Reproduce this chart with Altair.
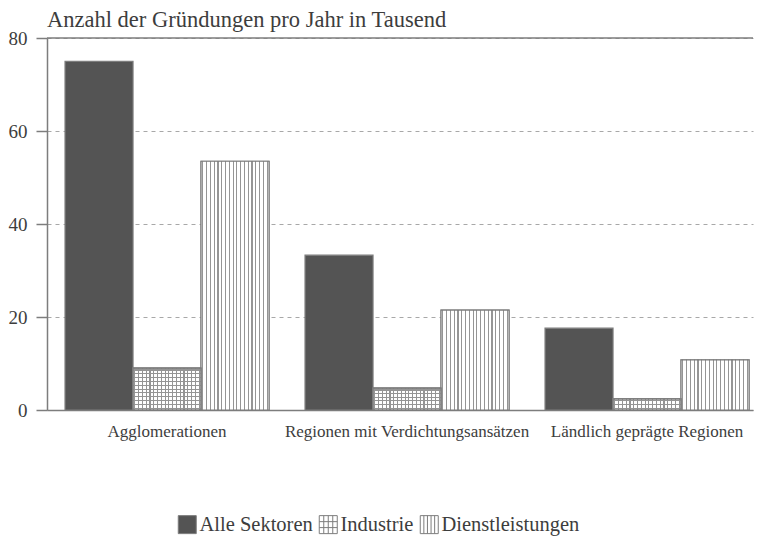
import altair as alt
import pandas as pd

# ---- data ----
regions = ["Agglomerationen", "Regionen mit Verdichtungsansätzen", "Ländlich geprägte Regionen"]
sectors = ["Alle Sektoren", "Industrie", "Dienstleistungen"]
alle_sektoren = [75.0, 33.3, 17.6]
industrie = [9.0, 4.7, 2.4]
dienstleistungen = [53.5, 21.5, 10.8]
y_ticks = [0, 20, 40, 60, 80]
y_max = 80
title_text = "Anzahl der Gründungen pro Jahr in Tausend"

series = {"Alle Sektoren": alle_sektoren, "Industrie": industrie, "Dienstleistungen": dienstleistungen}
df = pd.DataFrame(
    [{"Region": r, "Sektor": s, "Wert": series[s][i]} for i, r in enumerate(regions) for s in sectors]
)

# ---- style ----
W, H = 706, 372
FONT = "Liberation Serif"
TEXT = "#3d3d3d"
LINE = "#7d7d7d"
DARK = "#545454"
HATCH = "#959595"
PERIOD = 3.8  # px between hatch lines


def stripes(n, vertical_lines, bg):
    stops = []
    frac = 0.3
    for k in range(n):
        c = (k + 0.5) / n
        a = c - frac / (2 * n)
        b = c + frac / (2 * n)
        stops += [
            alt.GradientStop(offset=a, color=bg),
            alt.GradientStop(offset=a, color=HATCH),
            alt.GradientStop(offset=b, color=HATCH),
            alt.GradientStop(offset=b, color=bg),
        ]
    return alt.LinearGradient(
        gradient="linear", stops=stops, x1=0, y1=0,
        x2=1 if vertical_lines else 0, y2=0 if vertical_lines else 1,
    )


x_enc = alt.X(
    "Region:N", sort=regions,
    scale=alt.Scale(domain=regions, paddingInner=0.15, paddingOuter=0.0458, align=0.82),
    axis=alt.Axis(title=None, labelAngle=0, ticks=False, domainColor=LINE, domainWidth=1.5,
                  labelFont=FONT, labelFontSize=17, labelColor=TEXT, labelPadding=13,
                  labelLimit=0, labelOverlap=False, grid=False),
)
xo_enc = alt.XOffset("Sektor:N", sort=sectors,
                     scale=alt.Scale(domain=sectors, paddingInner=0, paddingOuter=0))
y_enc = alt.Y(
    "Wert:Q", scale=alt.Scale(domain=[0, y_max], nice=False),
    axis=alt.Axis(values=y_ticks, title=None, domainColor=LINE, domainWidth=1.5,
                  tickColor=LINE, tickSize=11, tickWidth=1.5,
                  labelFont=FONT, labelFontSize=19, labelColor=TEXT, labelPadding=9,
                  grid=True, gridColor="#a8a8a8", gridDash=[4, 4], gridWidth=1),
)

legend_shape = (
    "datum.value === 'Industrie' ? "
    "'M-1,-1H1V1H-1Z M-0.5,-1V1 M0,-1V1 M0.5,-1V1 M-1,-0.33H1 M-1,0.33H1' : "
    "datum.value === 'Dienstleistungen' ? "
    "'M-1,-1H1V1H-1Z M-0.6,-1V1 M-0.2,-1V1 M0.2,-1V1 M0.6,-1V1' : 'square'"
)

base = alt.Chart(df).mark_bar(stroke=LINE, strokeWidth=1.2).encode(
    x=x_enc, xOffset=xo_enc, y=y_enc,
    color=alt.Color(
        "Sektor:N", sort=sectors,
        scale=alt.Scale(domain=sectors, range=[DARK, "white", "white"]),
        legend=alt.Legend(
            title=None, orient="none", legendX=130, legendY=476, direction="horizontal",
            symbolType={"expr": legend_shape}, symbolSize=324,
            symbolStrokeColor=LINE, symbolStrokeWidth=1,
            labelFont=FONT, labelFontSize=20.5, labelColor=TEXT, labelOffset=2,
            columnPadding=4, padding=0,
        ),
    ),
)

n_cols = 18
dienst_layer = alt.Chart(df).transform_filter(
    alt.datum.Sektor == "Dienstleistungen"
).mark_bar(fill=stripes(n_cols, True, "white"), stroke=LINE, strokeWidth=1.2).encode(
    x=x_enc, xOffset=xo_enc, y=y_enc
)

ind_v = alt.Chart(df).transform_filter(
    alt.datum.Sektor == "Industrie"
).mark_bar(fill=stripes(n_cols, True, "white"), stroke=LINE, strokeWidth=1.2).encode(
    x=x_enc, xOffset=xo_enc, y=y_enc
)

ind_h = []
for r, v in zip(regions, industrie):
    n_rows = max(1, round(v / y_max * H / PERIOD))
    ind_h.append(
        alt.Chart(df).transform_filter(
            (alt.datum.Sektor == "Industrie") & (alt.datum.Region == r)
        ).mark_bar(fill=stripes(n_rows, False, "rgba(255,255,255,0)"), stroke=LINE, strokeWidth=1.2).encode(
            x=x_enc, xOffset=xo_enc, y=y_enc
        )
    )

top_rule = alt.Chart(pd.DataFrame({"v": [y_max]})).mark_rule(color=LINE, strokeWidth=1.5).encode(
    y=alt.Y("v:Q", scale=alt.Scale(domain=[0, y_max], nice=False))
)

chart = alt.layer(base, dienst_layer, ind_v, *ind_h, top_rule).properties(
    width=W, height=H,
    title=alt.Title(title_text, anchor="start", frame="group", font=FONT, fontSize=22.5,
                    fontWeight="normal", color=TEXT, offset=-2),
    padding={"left": 0, "top": 0, "right": 0, "bottom": 0},
).configure(font=FONT).configure_legend(
    labelFont=FONT, labelFontSize=20.5, labelColor=TEXT
).configure_view(stroke=None)

chart.save("out.html", embed_options={"renderer": "svg", "actions": False})
